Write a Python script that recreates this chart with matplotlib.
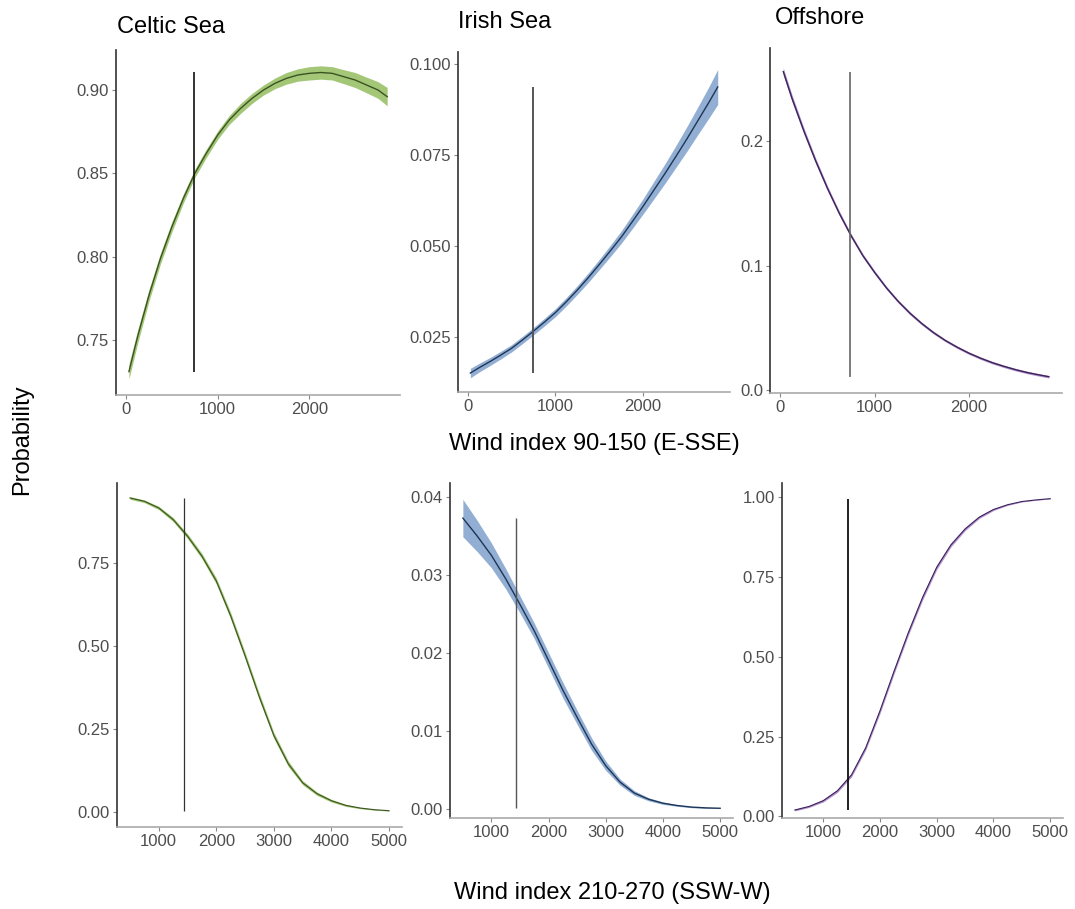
import matplotlib
matplotlib.use('Agg')
import matplotlib.pyplot as plt
from matplotlib.ticker import FormatStrFormatter

plt.rcParams['font.family'] = ['Liberation Sans', 'DejaVu Sans']

# valores de x (indice de viento)
x_top = [30, 125, 250, 375, 500, 625, 750, 875, 1000, 1125, 1250, 1375, 1500, 1625,
         1750, 1875, 2000, 2125, 2250, 2375, 2500, 2625, 2750, 2850]
x_bot = [500, 750, 1000, 1250, 1500, 1750, 2000, 2250, 2500, 2750, 3000,
         3250, 3500, 3750, 4000, 4250, 4500, 4750, 5000]

# Wind index 90-150 (E-SSE)
celtic_top = [0.731, 0.752, 0.777, 0.799, 0.818, 0.835, 0.850, 0.862, 0.873, 0.882, 0.889, 0.895,
              0.900, 0.904, 0.907, 0.909, 0.910, 0.9105, 0.910, 0.908, 0.906, 0.903, 0.900, 0.896]
celtic_top_ci = [0.0045, 0.004, 0.0035, 0.0032, 0.003, 0.0027, 0.0025, 0.0025, 0.0025, 0.0027, 0.003, 0.003,
                 0.003, 0.0032, 0.0035, 0.0037, 0.004, 0.004, 0.004, 0.0042, 0.0045, 0.0047, 0.005, 0.0055]
irish_top = [0.0152, 0.0166, 0.0183, 0.0201, 0.0220, 0.0243, 0.0267, 0.0292, 0.0318, 0.0348, 0.0380, 0.0414,
             0.0450, 0.0487, 0.0525, 0.0567, 0.0610, 0.0655, 0.0700, 0.0747, 0.0795, 0.0845, 0.0895, 0.0937]
irish_top_ci = [0.0013, 0.0012, 0.0011, 0.00105, 0.0010, 0.0010, 0.0010, 0.00105, 0.0011, 0.00115, 0.0012, 0.0013,
                0.0014, 0.00155, 0.0017, 0.0019, 0.0021, 0.0024, 0.0027, 0.0030, 0.0034, 0.0038, 0.0043, 0.0048]
off_top = [0.256, 0.234, 0.208, 0.184, 0.162, 0.142, 0.124, 0.108, 0.0945, 0.0821, 0.0712, 0.0617,
           0.0534, 0.0461, 0.0398, 0.0344, 0.0296, 0.0255, 0.0219, 0.0189, 0.0162, 0.0139, 0.0120, 0.0106]
off_top_ci = [0.003, 0.0028, 0.0025, 0.0022, 0.002, 0.0018, 0.0016, 0.0015, 0.0014, 0.0013, 0.0012, 0.0012,
              0.0011, 0.0011, 0.001, 0.001, 0.001, 0.001, 0.001, 0.001, 0.001, 0.001, 0.001, 0.001]

# Wind index 210-270 (SSW-W)
celtic_bot = [0.945, 0.935, 0.915, 0.88, 0.83, 0.77, 0.695, 0.59, 0.47, 0.345, 0.23,
              0.145, 0.088, 0.055, 0.034, 0.02, 0.012, 0.007, 0.004]
celtic_bot_ci = [0.004, 0.004, 0.005, 0.006, 0.007, 0.008, 0.009, 0.010, 0.010, 0.010, 0.009,
                 0.008, 0.006, 0.005, 0.004, 0.003, 0.002, 0.0015, 0.001]
irish_bot = [0.0373, 0.0350, 0.0325, 0.0295, 0.0262, 0.0228, 0.0190, 0.0152, 0.0117, 0.0083, 0.0055,
             0.0034, 0.0020, 0.0012, 0.0007, 0.0004, 0.0002, 0.0001, 0.00005]
irish_bot_ci = [0.0024, 0.0020, 0.0016, 0.0013, 0.0011, 0.0010, 0.0010, 0.0010, 0.0009, 0.0008, 0.0006,
                0.0004, 0.0003, 0.0002, 0.00015, 0.0001, 0.00008, 0.00005, 0.00004]
off_bot = [0.020, 0.031, 0.049, 0.080, 0.130, 0.215, 0.33, 0.455, 0.575, 0.685, 0.78,
           0.85, 0.90, 0.937, 0.961, 0.976, 0.986, 0.991, 0.995]
off_bot_ci = [0.003, 0.003, 0.004, 0.005, 0.006, 0.007, 0.008, 0.008, 0.008, 0.008, 0.007,
              0.006, 0.005, 0.004, 0.003, 0.002, 0.0015, 0.001, 0.001]

vline_top = 740
vline_bot = 1430

titles = ["Celtic Sea", "Irish Sea", "Offshore"]

W, H = 1075, 909
fig = plt.figure(figsize=(W / 100, H / 100), dpi=100)

def eje(l, r, t, b):
    return fig.add_axes([l / W, 1 - b / H, (r - l) / W, (b - t) / H])

xt_top = [0, 1000, 2000]
xt_bot = [1000, 2000, 3000, 4000, 5000]

paneles = [
    # (caja, x, y, ci, banda, linea, ancho linea, color vline, ancho vline, ylim, yticks, formato, xlim, xticks, vline)
    ((116, 400, 50, 395), x_top, celtic_top, celtic_top_ci, '#93bd5f', '#3b5323', 1.0, '#111111', 1.2,
     (0.717, 0.924), [0.75, 0.80, 0.85, 0.90], '%.2f', (-111, 2990), xt_top, vline_top),
    ((458, 730, 52, 392), x_top, irish_top, irish_top_ci, '#7fa1cc', '#1d3557', 1.0, '#555555', 1.4,
     (0.0100, 0.1033), [0.025, 0.050, 0.075, 0.100], '%.3f', (-111, 2990), xt_top, vline_top),
    ((770, 1062, 48, 393), x_top, off_top, off_top_ci, '#a97fc8', '#3a2458', 1.0, '#666666', 1.2,
     (-0.0025, 0.275), [0.0, 0.1, 0.2], '%.1f', (-111, 2990), xt_top, vline_top),
    ((117, 402, 483, 827), x_bot, celtic_bot, celtic_bot_ci, '#8fbb55', '#3b5323', 0.8, '#333333', 0.9,
     (-0.045, 0.99), [0.0, 0.25, 0.50, 0.75], '%.2f', (275, 5225), xt_bot, vline_bot),
    ((450, 733, 483, 818), x_bot, irish_bot, irish_bot_ci, '#7fa1cc', '#1d3557', 1.0, '#555555', 1.0,
     (-0.0012, 0.0418), [0.0, 0.01, 0.02, 0.03, 0.04], '%.2f', (275, 5225), xt_bot, vline_bot),
    ((782, 1063, 483, 818), x_bot, off_bot, off_bot_ci, '#a97fc8', '#3a2458', 0.8, '#111111', 1.3,
     (-0.005, 1.044), [0.0, 0.25, 0.50, 0.75, 1.00], '%.2f', (275, 5225), xt_bot, vline_bot),
]

for caja, xs, ys, ci, banda, linea, lwl, cv, lwv, ylim, yt, fmt, xlim, xt, xv in paneles:
    ax = eje(*caja)
    lo = [y - c for y, c in zip(ys, ci)]
    hi = [y + c for y, c in zip(ys, ci)]
    ax.fill_between(xs, lo, hi, color=banda, alpha=0.85, linewidth=0)
    ax.plot(xs, ys, color=linea, linewidth=lwl, solid_joinstyle='round')
    ax.vlines(xv, min(ys), max(ys), color=cv, linewidth=lwv)
    ax.set_xlim(*xlim)
    ax.set_ylim(*ylim)
    ax.set_xticks(xt)
    ax.set_yticks(yt)
    ax.yaxis.set_major_formatter(FormatStrFormatter(fmt))
    for s in ['top', 'right']:
        ax.spines[s].set_visible(False)
    ax.spines['left'].set_color('#333333')
    ax.spines['left'].set_linewidth(1.2)
    ax.spines['bottom'].set_color('#aaaaaa')
    ax.spines['bottom'].set_linewidth(1.2)
    ax.tick_params(direction='out', length=3, width=0.8, color='#888888',
                   labelsize=12, labelcolor='#4d4d4d', pad=2)

# titulos de las columnas
fig.text(117 / W, 1 - 27 / H, titles[0], fontsize=17, va='center', ha='left')
fig.text(458 / W, 1 - 22 / H, titles[1], fontsize=17, va='center', ha='left')
fig.text(775 / W, 1 - 18 / H, titles[2], fontsize=17, va='center', ha='left')

fig.text(594 / W, 1 - 444 / H, "Wind index 90-150 (E-SSE)", fontsize=17, ha='center', va='center')
fig.text(612 / W, 1 - 893 / H, "Wind index 210-270 (SSW-W)", fontsize=17, ha='center', va='center')
fig.text(22 / W, 1 - 440 / H, "Probability", fontsize=17, rotation=90, ha='center', va='center')

fig.savefig('out.png', dpi=100, facecolor='white')
